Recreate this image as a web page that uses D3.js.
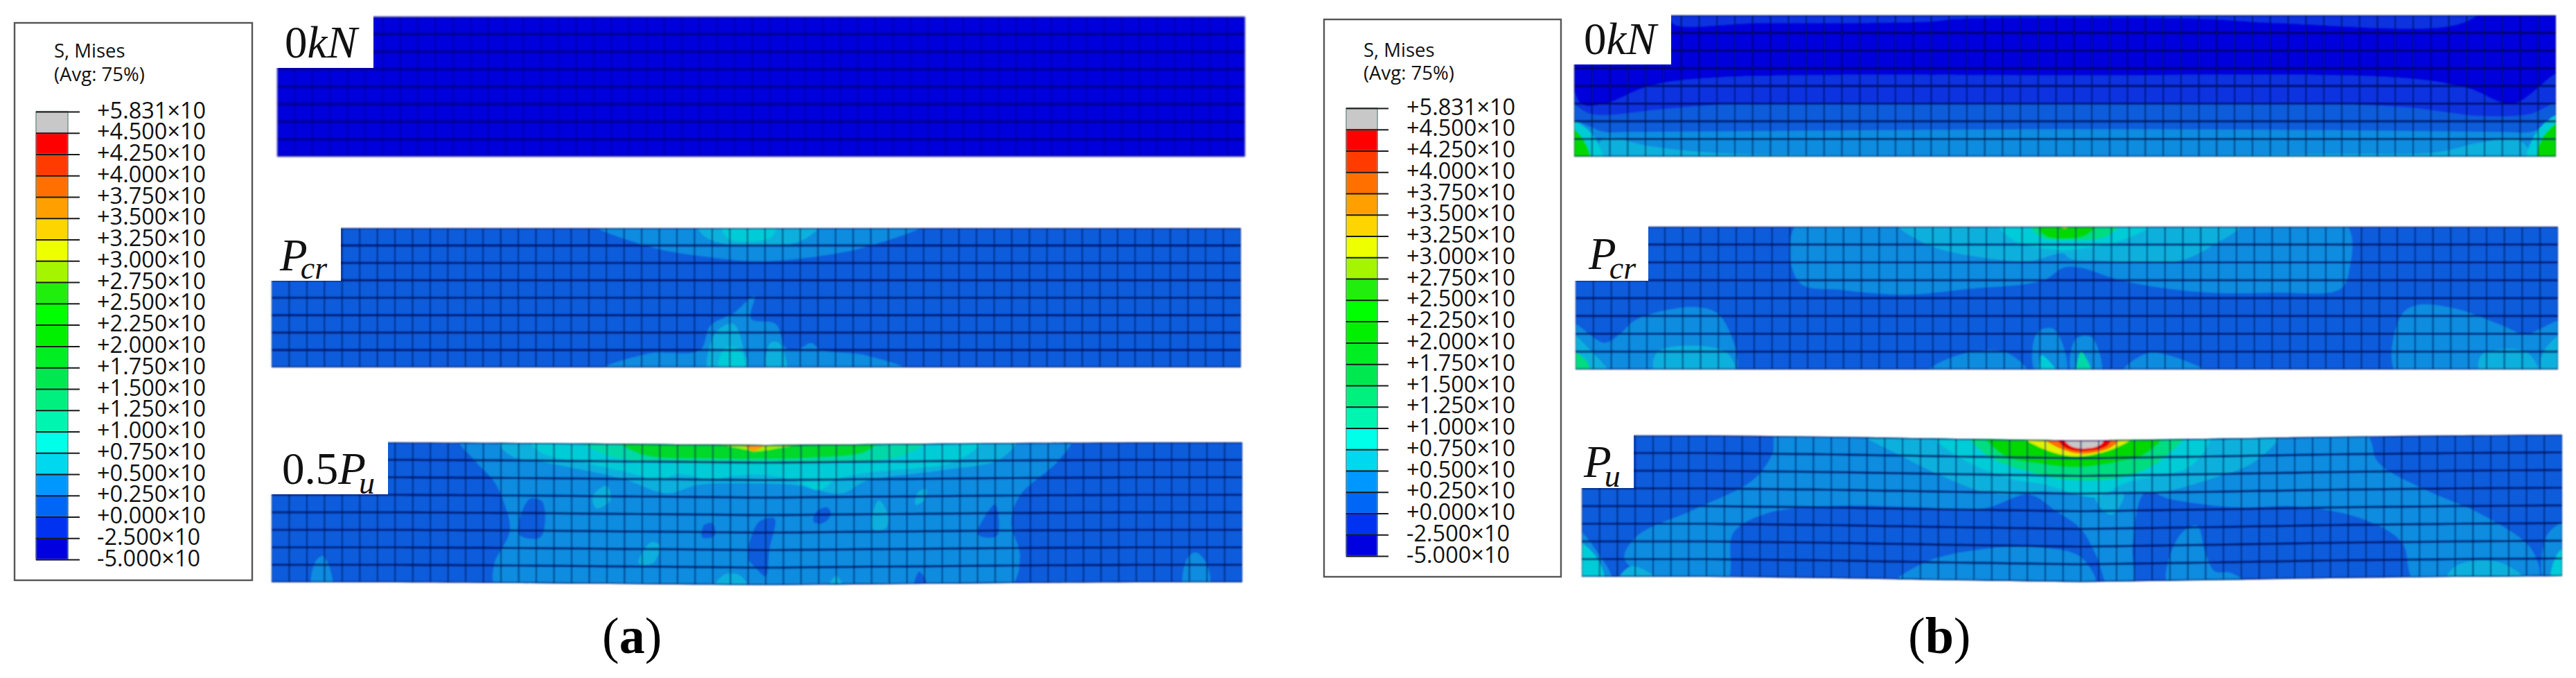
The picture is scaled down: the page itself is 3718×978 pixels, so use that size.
<!DOCTYPE html>
<html>
<head>
<meta charset="utf-8">
<title>S, Mises contour plots</title>
<script src="https://cdn.jsdelivr.net/npm/d3@7"></script>
<style>
  html, body { margin: 0; background: #fff; }
  svg { display: block; }
</style>
</head>
<body>
<div id="chart"></div>
<script>
// Legend, top to bottom
const legendLabels = ['+5.831×10', '+4.500×10', '+4.250×10', '+4.000×10', '+3.750×10', '+3.500×10',
  '+3.250×10', '+3.000×10', '+2.750×10', '+2.500×10', '+2.250×10', '+2.000×10', '+1.750×10',
  '+1.500×10', '+1.250×10', '+1.000×10', '+0.750×10', '+0.500×10', '+0.250×10', '+0.000×10',
  '-2.500×10', '-5.000×10'];
const legendColors = ['#c8c8c8', '#ff0000', '#ff3a00', '#ff7000', '#ff9f00', '#ffd500', '#eeff00',
  '#a5f500', '#22ee11', '#00ff00', '#00f000', '#00ee22', '#00e850', '#00f07f', '#00f5b0',
  '#00ffe8', '#00d8f0', '#0098ff', '#0066f5', '#0530f0', '#0000e0'];

// Colours as they come out on the blurred mesh, bottom band first
const plotColors = ['#0000dc', '#0730e0', '#0a5cdc', '#0a8ce0', '#08b0dc', '#00ccd8', '#00d8a8',
  '#00dc80', '#00dc58', '#00d82c', '#00d800', '#40e400', '#a0ee00', '#e0f000', '#ffd000', '#ffa000',
  '#ff7000', '#ff3a00', '#e80000', '#c8c8c8'];

// Contour regions: [band index from the bottom, [[column, row], ...]] on the 55 x 8 element mesh
const regionsA1 = [];

const regionsA2 = [
  [3, [[18.1, -0.3], [21.4, 1.05], [24.3, 1.6], [27.5, 1.9], [30.8, 1.65], [34, 1], [37.2, -0.3]]],
  [4, [[24.1, -0.3], [24.6, 0.5], [25.7, 0.9], [27.5, 1], [29.7, 0.85], [30.6, 0.4], [31.2, -0.3]]],
  [5, [[25.5, -0.3], [25.9, 0.6], [27.5, 0.75], [28.4, 0.5], [28.6, -0.3]]],
  [3, [[18.3, 8.3], [21.4, 7.2], [24.3, 7], [24.9, 5.6], [26.2, 4.9], [27.4, 3.9], [27.2, 5.2], [28.6, 5.5],
       [29.2, 6.9], [30, 6.9], [30.6, 6.6], [31.2, 7], [33.7, 7.3], [36.4, 8.3]]],
  [4, [[24.8, 8.3], [25.2, 6], [26.2, 5.5], [26.8, 7], [27, 8.3]]],
  [5, [[25.4, 8.3], [25.7, 6.9], [26.6, 7], [26.8, 8.3]]],
  [4, [[28.1, 8.3], [28.3, 6.6], [28.8, 6.6], [29.2, 8.3]]]
];

const regionsA3 = [
  [3, [[10.6, -0.3], [11.5, 1], [12.6, 2.2], [13.2, 3.5], [13.5, 5], [12.6, 7], [12.8, 8.3], [41.7, 8.3],
       [42.4, 6.5], [41.9, 4.5], [42.4, 3], [44.6, 1], [45.3, -0.3]]],
  [3, [[2.3, 8.3], [2.5, 6.8], [2.9, 6.5], [3.3, 7.2], [3.4, 8.3]]],
  [3, [[51.7, 8.3], [51.9, 6.6], [52.4, 6.3], [53, 7], [53.1, 8.3]]],
  [2, [[14, 5.2], [14.6, 3.2], [15.3, 3.3], [15.5, 4.4], [15.2, 5.4]]],
  [2, [[30.7, 4.4], [30.9, 3.8], [31.5, 3.6], [31.7, 4], [31.2, 4.5]]],
  [2, [[27, 6.4], [27.6, 4.4], [28.5, 4.2], [28.2, 6], [28, 7.5], [27.4, 7]]],
  [2, [[24.4, 5.3], [24.5, 4.6], [25, 4.5], [25.1, 5.2]]],
  [2, [[40, 5.2], [40.4, 4.2], [41, 3.5], [41.1, 5.3]]],
  [2, [[36.4, 8.3], [36.7, 7.3], [37.2, 8.3]]],
  [4, [[12.8, -0.3], [13.5, 0.7], [15.5, 1.1], [19.9, 2], [22.4, 2.8], [24.2, 2.3], [27.5, 2.2], [29.7, 2.3],
       [32.3, 2.8], [33.7, 2.1], [38.1, 1.5], [41.3, 0.9], [42.2, -0.3]]],
  [4, [[18.4, 3.7], [18.2, 3], [19, 2.4], [19.2, 3.2]]],
  [4, [[36.5, 3.5], [36.6, 2.8], [37.1, 2.6], [37, 3.2]]],
  [4, [[34, 4.8], [34.4, 3.2], [34.9, 4], [34.8, 4.8]]],
  [4, [[20.8, 6.8], [21.5, 5.6], [22, 5.8], [21.6, 6.8]]],
  [4, [[25, 8.3], [25.7, 7.4], [26.6, 7.5], [27, 8.3]]],
  [4, [[31.5, 8.3], [32, 7.5], [32.4, 8.3]]],
  [5, [[14.6, -0.3], [15.2, 0.5], [17.7, 1.1], [20.5, 1.7], [22, 2.1], [23, 1.7], [25, 2], [26, 1.8], [27.5, 1.7],
       [29.5, 2], [31, 2.6], [32, 2], [34, 1.6], [38.8, 1], [40.3, -0.3]]],
  [6, [[17.3, -0.3], [19.2, 0.7], [22.8, 1.05], [27.5, 1.1], [32.3, 1.05], [35.9, 0.6], [37.3, -0.3]]],
  [9, [[19.5, -0.3], [21, 0.6], [25, 0.8], [27.5, 0.8], [30.4, 0.75], [33.7, 0.4], [34.4, -0.3]]],
  [12, [[24.3, -0.3], [26.5, 0.2], [27.5, 0.35], [28.6, 0.2], [31.2, -0.3]]],
  [15, [[26.6, -0.3], [27.3, 0.35], [28.2, -0.3]]]
];

const regionsB1 = [
  [1, [[5.5, -0.3], [5.5, 0.45], [10.3, 0.45], [20, 0.35], [21.5, 0.2], [35, 0.2], [39.5, 0.45], [49.4, 0.55], [50.8, -0.3]]],
  [1, [[-0.3, 3.3], [0.4, 5], [1.7, 5], [4.2, 4], [7.5, 3.55], [27.5, 3.4], [46.5, 3.55], [50, 4.1], [52.6, 5],
       [55.3, 3.3], [55.3, 8.3], [-0.3, 8.3]]],
  [2, [[-0.3, 5], [1, 5.6], [5, 5.3], [8.5, 5.05], [15, 5], [27.5, 4.95], [41, 5], [46.5, 5.2], [50.8, 5.7],
       [53.5, 5.6], [55.3, 5], [55.3, 8.3], [-0.3, 8.3]]],
  [3, [[-0.3, 6], [1.7, 6.6], [3.1, 6.6], [17.6, 6.5], [27.5, 6.45], [42, 6.5], [52, 6.6], [53.6, 6.6], [55.3, 6], [55.3, 8.3], [-0.3, 8.3]]],
  [4, [[1.4, 8.3], [1.6, 7], [4.2, 7.4], [6.7, 7.7], [9.3, 7.85], [27.5, 7.95], [42.9, 7.85], [48.3, 7.75],
       [50.8, 7.2], [53, 7.1], [53.6, 8.3]]],
  [5, [[-0.3, 6], [0.9, 6.6], [1.6, 8.3], [-0.3, 8.3]]],
  [5, [[53.4, 8.3], [54, 6.5], [55.3, 5.6], [55.3, 8.3]]],
  [10, [[-0.3, 6.3], [0.5, 7], [0.9, 8.3], [-0.3, 8.3]]],
  [10, [[54, 8.3], [54.2, 7], [55.3, 6], [55.3, 8.3]]]
];

const regionsB2 = [
  [3, [[12.5, -0.3], [12.5, 3.1], [15, 3.55], [18.6, 3.8], [21.8, 3.5], [26.2, 3], [27.3, 2.3], [28.3, 2.3], [30.5, 3],
       [34.8, 3.65], [39.2, 3.7], [42.8, 3.5], [43.3, 2.5], [43, -0.3]]],
  [3, [[-0.3, 5.4], [1.6, 6.5], [2.5, 6], [3.4, 5.2], [6.7, 4.5], [8.1, 5], [8.9, 8.3], [-0.3, 8.3]]],
  [3, [[46, 8.3], [46.2, 5], [47.1, 4.4], [49.3, 4.6], [51.8, 5.5], [53.2, 6], [55.3, 5.3], [55.3, 8.3]]],
  [3, [[19.5, 8.3], [21.1, 7.3], [24, 7], [25.4, 8.3]]],
  [3, [[25.8, 8.3], [25.8, 6], [26.7, 5.7], [27.4, 7], [27.4, 8.3]]],
  [3, [[27.8, 8.3], [28, 6.3], [28.9, 6.2], [29.4, 8.3]]],
  [3, [[30.5, 8.3], [32, 7.1], [34.1, 7.5], [35.6, 8.3]]],
  [4, [[17.9, -0.3], [19.7, 1], [22.6, 1.7], [25.5, 1.9], [27.3, 1.5], [27.7, 1.8], [29.4, 1.9], [33.8, 1.9], [35.6, 1.1], [37.4, -0.3]]],
  [4, [[-0.3, 6], [0.9, 7], [1.9, 8.3], [-0.3, 8.3]]],
  [4, [[4.5, 8.3], [4.6, 7], [8.4, 7], [8.9, 8.3]]],
  [4, [[50.7, 8.3], [50.7, 7.2], [53.2, 7], [53.9, 8.3]]],
  [4, [[54, 8.3], [54.2, 7], [55.3, 6], [55.3, 8.3]]],
  [5, [[26, 8.3], [26.1, 7.2], [27, 8.3]]],
  [5, [[23.6, -0.3], [24.6, 0.8], [26.9, 1.3], [27.6, 1.3], [30.5, 0.8], [32.5, -0.3]]],
  [6, [[28.1, 8.3], [28.3, 7], [28.9, 8.3]]],
  [7, [[-0.3, 7], [0.6, 7.5], [0.8, 8.3], [-0.3, 8.3]]],
  [7, [[25.5, -0.3], [25.9, 0.5], [27.6, 0.75], [29.8, 0.5], [30.5, -0.3]]],
  [10, [[25.8, -0.3], [26.3, 0.5], [27.8, 0.65], [28.7, 0.4], [29.2, -0.3]]],
  [13, [[26.8, -0.3], [27.4, 0.1], [27.9, -0.3]]]
];

const regionsB3 = [
  [3, [[11, -0.3], [10.7, 1], [9.6, 2.5], [6.3, 4.2], [3.1, 5.7], [2.4, 7], [4.5, 8.3], [8.1, 8.3], [8.5, 5.5],
       [10.3, 4.4], [14.3, 3.9], [18.6, 3.9], [22.6, 3.9], [25.1, 3.1], [26.6, 4], [28, 5], [28.9, 6.6], [29.6, 8.3],
       [30.9, 8.3], [30.9, 6], [31.6, 3], [33.1, 3.4], [36.7, 3.9], [40, 3.9], [43.6, 4.6], [46, 6], [46.8, 8.3],
       [53.6, 8.3], [53.3, 6.5], [50.5, 4.5], [47.2, 3], [44.7, 1.5], [43.8, -0.3]]],
  [3, [[17.5, 8.3], [19.3, 7], [22.6, 6.2], [25.9, 6.1], [28, 6.6], [28.8, 8.3]]],
  [3, [[32.9, 8.3], [33.5, 5.5], [34.5, 4.9], [35, 6.5], [35.5, 7.5], [36.4, 7.6], [37.4, 8.3]]],
  [3, [[-0.3, 5.3], [0.8, 6.5], [1.7, 8.3], [-0.3, 8.3]]],
  [3, [[54, 8.3], [54.2, 5.6], [55.3, 5], [55.3, 8.3]]],
  [4, [[15.7, -0.3], [17.9, 1], [20.4, 2.2], [22.6, 3], [24.4, 3.1], [25.7, 2.9], [26.9, 3], [29, 3.2], [30.9, 3],
       [32.4, 3], [35.2, 2.3], [37.8, 1.3], [39.1, -0.3]]],
  [4, [[28.8, 3.2], [29.4, 4.1], [29.8, 4.2], [30.4, 3.1]]],
  [4, [[48.5, 8.3], [49, 7.4], [51.5, 7.2], [53, 8.3]]],
  [4, [[2, 8.3], [2.8, 7.4], [4.4, 8.3]]],
  [5, [[-0.3, 6], [0.9, 7], [1.2, 8.3], [-0.3, 8.3]]],
  [5, [[54.4, 8.3], [54.7, 6.8], [55.3, 6.3], [55.3, 8.3]]],
  [5, [[19.7, -0.3], [21.1, 1], [24, 2.2], [25.9, 2.5], [28.8, 3.2], [30.6, 2.4], [34.2, 1.5], [35.2, -0.3]]],
  [7, [[21.7, -0.3], [22.9, 1], [25.1, 1.8], [26.9, 2.2], [29.8, 2.2], [31.6, 1.7], [32.7, 1], [33.8, -0.3]]],
  [10, [[22.6, -0.3], [23.7, 0.9], [25.5, 1.3], [27.7, 1.5], [30.2, 1.2], [31.6, 0.8], [32.6, -0.3]]],
  [13, [[24.6, -0.3], [25.9, 0.5], [27.7, 0.9], [29.8, 0.5], [31.1, -0.3]]],
  [16, [[25.7, -0.3], [26.9, 0.5], [28.2, 0.75], [29.8, 0.35], [30.2, -0.3]]],
  [18, [[26.6, -0.3], [27.1, 0.4], [28.2, 0.6], [29.5, 0.3], [29.7, -0.3]]],
  [19, [[26.9, -0.3], [27.4, 0.3], [28.2, 0.45], [29.1, 0.25], [29.4, -0.3]]]
];

// Beam deflection read at mesh stations (px downwards)
const sagStations = [0, 7, 14, 21, 28, 35, 42, 49, 55];
const sagNone = [0, 0, 0, 0, 0, 0, 0, 0, 0];
const sagA3 = [0, 0, 1, 2.5, 4, 2.5, 1, 0, 0];
const sagB3 = [0, 0, 2, 5, 7.5, 5, 2, 0, -1];

const MESH = { cols: 55, rows: 8 };

// Layout (px)
const legendA = { box: [21, 33, 364, 837], bar: [52, 98], tickEnd: 115, top: 161, bottom: 807, textX: 140, titleX: 78, titleY: [83, 117] };
const legendB = { box: [1911, 28, 2253, 832], bar: [1943, 1988], tickEnd: 2004, top: 156, bottom: 802, textX: 2030, titleX: 1968, titleY: [82, 115] };

const panels = [
  { id: 'a1', x: [400, 1797], y: [24, 226], notch: [539, 98], base: 0, regions: regionsA1, sag: sagNone,
    h: '#000070', v: '#000080', hw: 3.6, vw: 2, hOp: 0.8, vOp: 0.55, blur: 1.5,
    label: { x: 411, y: 83, parts: [['0', 'normal'], ['kN', 'italic']] } },
  { id: 'a2', x: [392, 1791], y: [329, 530], notch: [492, 405], base: 2, regions: regionsA2, sag: sagNone,
    h: '#000a60', v: '#001050', hw: 3.2, vw: 1.8, hOp: 0.85, vOp: 0.75, blur: 0.8,
    label: { x: 404, y: 390, parts: [['P', 'italic']], sub: 'cr', subY: 402 } },
  { id: 'a3', x: [392, 1793], y: [638, 840], notch: [560, 713], base: 2, regions: regionsA3, sag: sagA3,
    h: '#000a60', v: '#001050', hw: 3.2, vw: 1.8, hOp: 0.8, vOp: 0.75, blur: 0.8,
    label: { x: 407, y: 698, parts: [['0.5', 'normal'], ['P', 'italic']], sub: 'u', subY: 712 } },
  { id: 'b1', x: [2272, 3689], y: [22, 226], notch: [2412, 93], base: 0, regions: regionsB1, sag: sagNone,
    h: '#00084a', v: '#001040', hw: 3.2, vw: 1.8, hOp: 0.8, vOp: 0.75, blur: 0.8,
    label: { x: 2286, y: 78, parts: [['0', 'normal'], ['kN', 'italic']] } },
  { id: 'b2', x: [2274, 3692], y: [327, 533], notch: [2379, 405], base: 2, regions: regionsB2, sag: sagNone,
    h: '#000a60', v: '#001050', hw: 3.2, vw: 1.8, hOp: 0.85, vOp: 0.75, blur: 0.8,
    label: { x: 2293, y: 388, parts: [['P', 'italic']], sub: 'cr', subY: 402 } },
  { id: 'b3', x: [2283, 3698], y: [628, 832], notch: [2358, 704], base: 2, regions: regionsB3, sag: sagB3,
    h: '#000a60', v: '#001050', hw: 3.2, vw: 1.8, hOp: 0.8, vOp: 0.75, blur: 0.8,
    label: { x: 2286, y: 688, parts: [['P', 'italic']], sub: 'u', subY: 702 } }
];

const captions = [
  { x: 869, y: 942, letter: 'a' },
  { x: 2754, y: 942, letter: 'b' }
];

const SERIF = '"Liberation Serif", serif';
const svg = d3.select('#chart').append('svg').attr('width', 3718).attr('height', 978);
const defs = svg.append('defs');
[0.8, 1.5].forEach(s => {
  defs.append('filter').attr('id', 'blur' + String(s).replace('.', ''))
    .attr('x', '-2%').attr('y', '-5%').attr('width', '104%').attr('height', '110%')
    .append('feGaussianBlur').attr('stdDeviation', s);
});

function drawLegend(cfg) {
  const g = svg.append('g');
  const [x0, y0, x1, y1] = cfg.box;
  g.append('rect').attr('x', x0).attr('y', y0).attr('width', x1 - x0).attr('height', y1 - y0)
    .attr('fill', '#fff').attr('stroke', '#555').attr('stroke-width', 2.4);

  ['S, Mises', '(Avg: 75%)'].forEach((t, i) => {
    g.append('text').attr('x', cfg.titleX).attr('y', cfg.titleY[i])
      .style('font', '27.5px "Open Sans"').style('fill', '#111').text(t);
  });

  const y = d3.scalePoint().domain(legendLabels).range([cfg.top, cfg.bottom]);
  const bands = g.append('g').attr('filter', 'url(#blur08)');
  bands.selectAll('rect').data(legendColors).join('rect')
    .attr('x', cfg.bar[0]).attr('width', cfg.bar[1] - cfg.bar[0])
    .attr('y', (d, i) => y(legendLabels[i]))
    .attr('height', (d, i) => y(legendLabels[i + 1]) - y(legendLabels[i]))
    .attr('fill', d => d);
  g.append('rect')
    .attr('x', cfg.bar[0]).attr('width', cfg.bar[1] - cfg.bar[0])
    .attr('y', cfg.top).attr('height', cfg.bottom - cfg.top)
    .attr('fill', 'none').attr('stroke', '#003a30').attr('stroke-opacity', 0.45).attr('stroke-width', 1.6);

  const axis = g.append('g')
    .attr('transform', `translate(${cfg.bar[0]},0)`)
    .call(d3.axisRight(y).tickSize(cfg.tickEnd - cfg.bar[0]).tickPadding(cfg.textX - cfg.tickEnd));
  axis.select('.domain').remove();
  axis.selectAll('line').attr('stroke', '#1a1a1a').attr('stroke-width', 2);
  axis.selectAll('text')
    .style('font', '32.5px "Open Sans"').style('fill', '#111')
    .attr('dy', '0.28em');
}

function drawPanel(p) {
  const x = d3.scaleLinear().domain([0, MESH.cols]).range(p.x);
  const y = d3.scaleLinear().domain([0, MESH.rows]).range(p.y);
  const sag = d3.scaleLinear().domain(sagStations).range(p.sag);
  const px = ([c, r]) => [x(c), y(r) + sag(c)];
  const columns = d3.range(0, MESH.cols + 1);
  const rows = d3.range(0, MESH.rows + 1);

  const outline = d3.area()
    .x(c => x(c))
    .y0(c => y(0) + sag(c))
    .y1(c => y(MESH.rows) + sag(c));

  defs.append('clipPath').attr('id', 'clip-' + p.id)
    .append('path').attr('d', outline(columns));

  const g = svg.append('g').attr('filter', `url(#blur${String(p.blur).replace('.', '')})`);
  const body = g.append('g').attr('clip-path', `url(#clip-${p.id})`);

  body.append('path').attr('d', outline(columns)).attr('fill', plotColors[p.base]);

  const contour = d3.line().x(d => px(d)[0]).y(d => px(d)[1]).curve(d3.curveCatmullRomClosed.alpha(0.5));
  body.selectAll('.region').data(p.regions).join('path')
    .attr('class', 'region')
    .attr('d', d => contour(d[1]))
    .attr('fill', d => plotColors[d[0]]);

  const rowLine = d3.line().x(c => x(c[0])).y(c => y(c[1]) + sag(c[0]));
  body.selectAll('.row').data(rows).join('path')
    .attr('class', 'row')
    .attr('d', r => rowLine(columns.map(c => [c, r])))
    .attr('fill', 'none').attr('stroke', p.h).attr('stroke-width', p.hw).attr('stroke-opacity', p.hOp);
  body.selectAll('.col').data(columns).join('path')
    .attr('class', 'col')
    .attr('d', c => d3.line()([px([c, 0]), px([c, MESH.rows])]))
    .attr('fill', 'none').attr('stroke', p.v).attr('stroke-width', p.vw).attr('stroke-opacity', p.vOp);

  // white label tab cut out of the top-left corner
  svg.append('rect')
    .attr('x', p.x[0] - 4).attr('y', p.y[0] - 8)
    .attr('width', p.notch[0] - p.x[0] + 4).attr('height', p.notch[1] - p.y[0] + 8)
    .attr('fill', '#fff');

  const label = svg.append('text').attr('x', p.label.x).attr('y', p.label.y)
    .style('font-family', SERIF).style('font-size', '65px').style('fill', '#111');
  p.label.parts.forEach(([t, style]) => {
    label.append('tspan').style('font-style', style).text(t);
  });
  if (p.label.sub) {
    label.append('tspan')
      .attr('dx', -10).attr('dy', p.label.subY - p.label.y)
      .style('font-style', 'italic').style('font-size', '46px')
      .text(p.label.sub);
  }
}

drawLegend(legendA);
drawLegend(legendB);
panels.forEach(drawPanel);

captions.forEach(c => {
  const t = svg.append('text').attr('x', c.x).attr('y', c.y)
    .style('font-family', SERIF).style('font-size', '74px').style('fill', '#000');
  t.append('tspan').text('(');
  t.append('tspan').style('font-weight', 'bold').text(c.letter);
  t.append('tspan').text(')');
});
</script>
</body>
</html>
